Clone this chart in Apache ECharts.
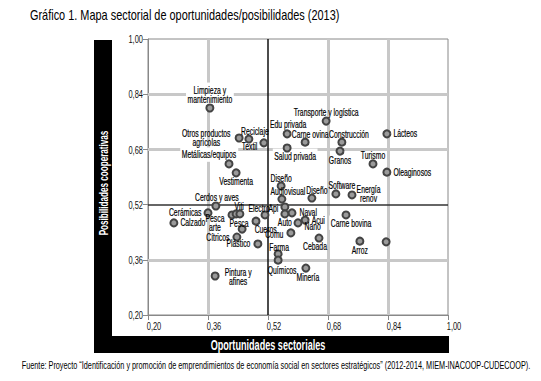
<!DOCTYPE html>
<html><head><meta charset="utf-8">
<script src="https://cdn.jsdelivr.net/npm/echarts@6/dist/echarts.min.js"></script>
<style>html,body{margin:0;padding:0;background:#fff}#c{width:541px;height:381px}</style>
</head><body><div id="c"></div>
<script>
var FONT = "'Liberation Sans',Arial,sans-serif";
var SQUEEZE = 0.65;
var names = ["Limpieza y\nmantenimiento","Otros productos\nagrícolas","Reciclaje","Textil","Edu privada","Carne ovina","Salud privada","Transporte y logística","Construcción","Granos","Lácteos","Turismo","Oleaginosos","Diseño","Audiovisual","Diseño","Software","Energía\nrenov","Api","Naval","Auto","Acui","Nano","Comu","Cebada","Farma","Químicos","Minería","Carne bovina","Arroz","","Metálicas/equipos","Vestimenta","Cerdos y aves","Cerámicas","Calzado","Pesca\narte","Viti","","Electro","Pesca","Cueros","Cítricos","Plástico","Pintura y\nafines"];
var opportunities = [0.365,0.443,0.469,0.509,0.571,0.619,0.571,0.675,0.717,0.712,0.837,0.800,0.837,0.555,0.557,0.637,0.701,0.744,0.565,0.584,0.565,0.619,0.600,0.581,0.656,0.547,0.547,0.621,0.728,0.765,0.835,0.416,0.435,0.381,0.360,0.269,0.424,0.435,0.445,0.512,0.488,0.451,0.437,0.493,0.379];
var possibilities = [0.800,0.713,0.710,0.699,0.725,0.701,0.684,0.762,0.701,0.675,0.725,0.638,0.614,0.574,0.536,0.539,0.551,0.548,0.513,0.496,0.493,0.475,0.467,0.438,0.423,0.377,0.359,0.336,0.490,0.414,0.412,0.638,0.612,0.516,0.496,0.467,0.490,0.493,0.493,0.490,0.472,0.449,0.426,0.406,0.313];
var xTicks = [0.20,0.36,0.52,0.68,0.84,1.00];
var yTicks = [0.20,0.36,0.52,0.68,0.84,1.00];

// label placement (style only): [position, dx, dy, centred lines]
var place = [
 ['top',0,3],['left',-1,0,1],['top',6,4],['left',1,4],['top',1,3],['top',5,4],['bottom',8,-4],['top',0,3],['top',7,4],['bottom',0,-3],
 ['right',-1,0],['top',0,4],['right',-1,0],['top',0,4],['top',6,4],['top',5,4],['top',6,4],['right',-3,-1,1],['left',1,1],['right',0,0],
 ['bottom',0,-3],['right',-1,0],['right',-1,4],['left',0,2],['bottom',-4,-4],['top',1,5],['bottom',4,-2],['bottom',2,-3],['bottom',5,-4],['bottom',0,-3],
 ['right',0,0],['top',-20,3],['bottom',0,-3],['top',1,3],['left',1,0],['right',-1,0],['left',0,8,1],['top',3,5],['top',0,0],['top',-6,5],
 ['left',0,2],['right',5,0],['left',0,0],['left',0,0],['right',2,1,1]
];
// labels whose white box interrupts the grid lines in the original
var boxed = ['Limpieza y','mantenimiento','Metálicas/equipos','Salud privada','Carne bovina'];

var data = names.map(function(n,i){
  return {value:[opportunities[i],possibilities[i]], name:n,
    label:{show:n!=='', position:place[i][0]}};
});

function fmt(v){return v.toFixed(2).replace('.',',');}
function vLine(x,c,w){return {xAxis:x, lineStyle:{color:c,width:w,type:'solid'}};}
function hLine(y,c,w){return {yAxis:y, lineStyle:{color:c,width:w,type:'solid'}};}

var chart = echarts.init(document.getElementById('c'), null, {renderer:'svg'});
chart.setOption({
  animation:false,
  textStyle:{fontFamily:FONT},
  title:{text:'Gráfico 1. Mapa sectorial de oportunidades/posibilidades (2013)', left:25, top:4,
    textStyle:{fontFamily:FONT,fontSize:14,fontWeight:'normal',color:'#000'}},
  graphic:[
    {type:'rect', shape:{x:94,y:40,width:18,height:313}, style:{fill:'#000'}, z:0},
    {type:'rect', shape:{x:94,y:336,width:355,height:17}, style:{fill:'#000'}, z:0},
    {type:'text', x:103, y:183, rotation:Math.PI/2, style:{text:'Posibilidades cooperativas', fill:'#fff', font:'bold 12.5px '+FONT, textAlign:'center', textVerticalAlign:'middle'}},
    {type:'text', x:268, y:345, style:{text:'Oportunidades sectoriales', fill:'#fff', font:'bold 14px '+FONT, textAlign:'center', textVerticalAlign:'middle'}},
    {type:'text', x:276, y:366, style:{text:'Fuente: Proyecto “Identificación y promoción de emprendimientos de economía social en sectores estratégicos” (2012-2014, MIEM-INACOOP-CUDECOOP).', fill:'#000', font:'10px '+FONT, textAlign:'center', textVerticalAlign:'middle'}}
  ],
  grid:{left:148, top:39, width:300, height:276, show:true, borderColor:'#888', borderWidth:1, backgroundColor:'#fff'},
  xAxis:{type:'value', min:0.2, max:1.0, interval:0.16,
    axisLine:{show:true,lineStyle:{color:'#888'}}, axisTick:{show:true,length:5,lineStyle:{color:'#888'}},
    splitLine:{show:false},
    axisLabel:{formatter:fmt, color:'#111', fontSize:11.5, fontFamily:FONT, margin:5, padding:[0,0,0,12], showMinLabel:true, showMaxLabel:true}},
  yAxis:{type:'value', min:0.2, max:1.0, interval:0.16,
    axisLine:{show:true,lineStyle:{color:'#888'}}, axisTick:{show:true,length:5,lineStyle:{color:'#888'}},
    splitLine:{show:false},
    axisLabel:{formatter:fmt, color:'#111', fontSize:11.5, fontFamily:FONT, margin:5}},
  series:[{
    type:'scatter', symbol:'circle', symbolSize:7,
    itemStyle:{color:'#9a9a9a', borderColor:'#444', borderWidth:2, opacity:1},
    label:{color:'#000', fontSize:10.5, fontFamily:FONT, lineHeight:9, distance:3,
      textBorderColor:'#000', textBorderWidth:0.2,
      formatter:function(p){return p.name;}},
    labelLayout:function(p){
      var s = place[p.dataIndex];
      var r = {dx:s[1], dy:s[2], hideOverlap:false};
      if(s[3]){
        var half = p.labelRect.width*SQUEEZE/2;
        r.align = 'center';
        r.dx += (s[0]==='left' ? -half : half);
      }
      return r;
    },
    data:data,
    z:5,
    markLine:{silent:true, symbol:['none','none'], label:{show:false}, z:1,
      data:[vLine(0.36,'#c8c8c8',3),vLine(0.68,'#c8c8c8',3),vLine(0.84,'#c8c8c8',3),
            hLine(0.36,'#c8c8c8',3),hLine(0.68,'#c8c8c8',3),hLine(0.84,'#c8c8c8',3),
            vLine(0.52,'#111',1.5),hLine(0.52,'#333',1.5)]}
  }]
});

// emulate the condensed typeface of the original by narrowing text horizontally
function condense(){
  var svg = document.querySelector('#c svg');
  if(!svg) return;
  var NS = 'http://www.w3.org/2000/svg';
  var boxes = [];
  svg.querySelectorAll('text').forEach(function(t){
    if(t.getAttribute('data-c')) return;
    var txt = t.textContent || '';
    var s = SQUEEZE;
    if(txt.indexOf('Gráfico')===0) s = 0.78;
    else if(txt.indexOf('Fuente')===0) s = 0.73;
    var x = parseFloat(t.getAttribute('x')||0), y = parseFloat(t.getAttribute('y')||0);
    var tr = t.getAttribute('transform')||'';
    t.setAttribute('transform', tr+' translate('+x+' '+y+') scale('+s+' 1) translate('+(-x)+' '+(-y)+')');
    t.setAttribute('data-c','1');
    if(boxed.indexOf(txt)>=0){ boxes.push(t.getBoundingClientRect()); }
  });
  // white boxes go under all markers and labels, above the grid lines
  var firstMarker = null;
  var all = svg.querySelectorAll('path');
  for(var i=0;i<all.length;i++){
    var f = (all[i].getAttribute('fill')||'').toLowerCase();
    if(f==='#9a9a9a' || f==='rgb(154,154,154)'){ firstMarker = all[i]; break; }
  }
  var sb = svg.getBoundingClientRect();
  boxes.forEach(function(b){
    var r = document.createElementNS(NS,'rect');
    r.setAttribute('x', b.left-sb.left-1.5); r.setAttribute('y', b.top-sb.top-1.5);
    r.setAttribute('width', b.width+3); r.setAttribute('height', b.height+2.5);
    r.setAttribute('fill','#fff');
    if(firstMarker) firstMarker.parentNode.insertBefore(r, firstMarker);
  });
}
condense();
</script></body></html>
